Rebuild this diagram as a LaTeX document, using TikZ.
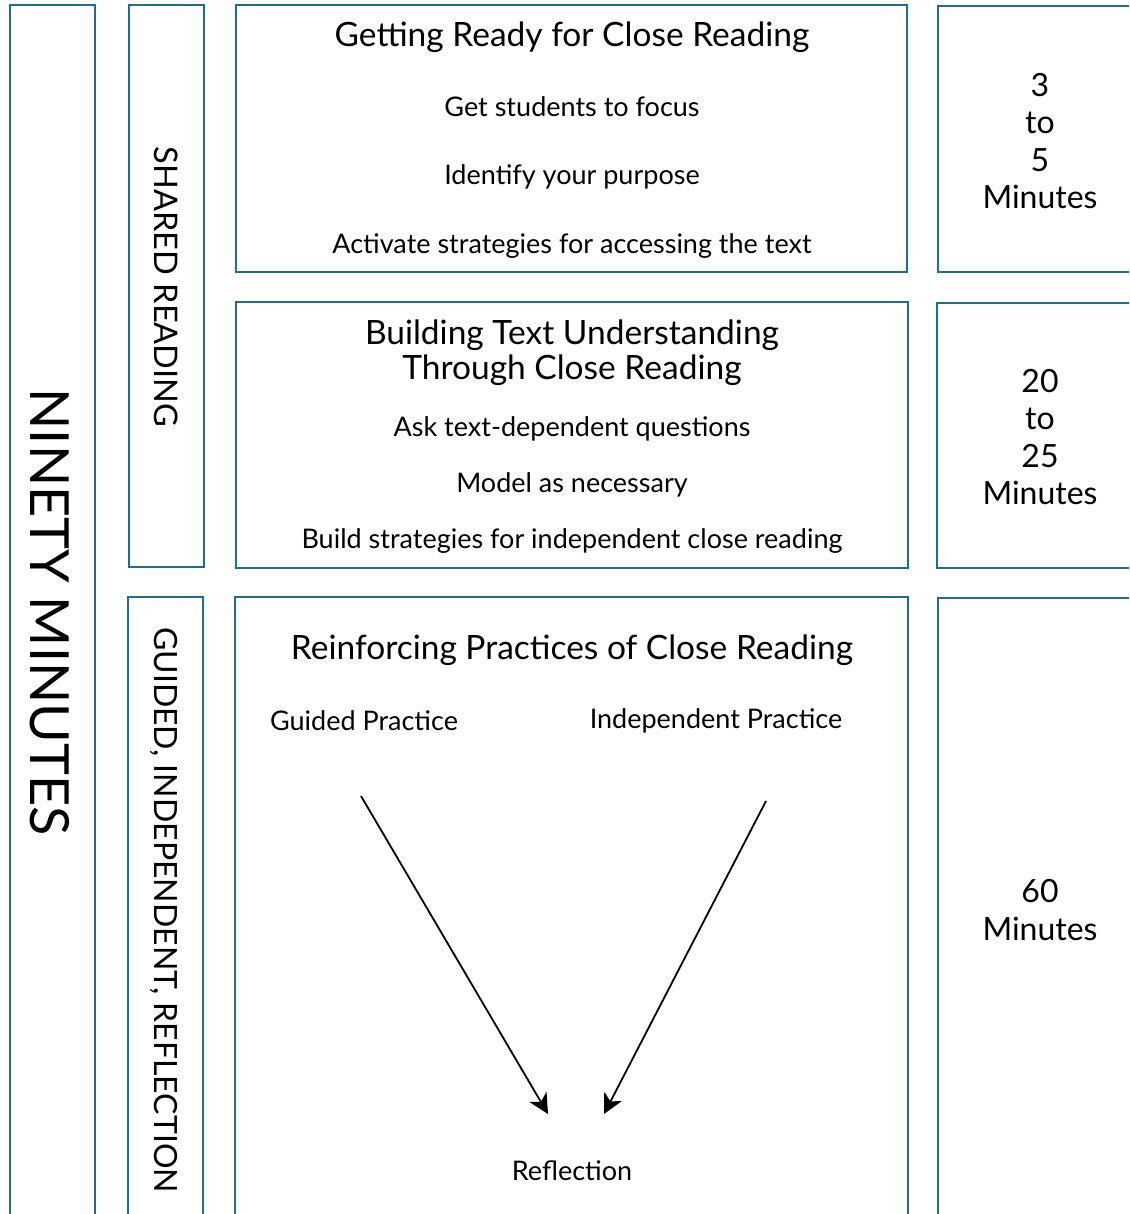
\documentclass[tikz,border=0pt]{standalone}
\usepackage{fontspec}
\setmainfont{Lato}
\usetikzlibrary{arrows.meta}
\definecolor{teal1}{RGB}{31,110,140}
\begin{document}
\begin{tikzpicture}[x=1pt,y=-1pt,
  frame/.style={draw=teal1,line width=1.7pt},
  title/.style={font=\fontsize{33.5}{35}\selectfont,align=center},
  body/.style={font=\fontsize{27}{32}\selectfont},
  mins/.style={font=\fontsize{32}{37.5}\selectfont,align=center},
  side/.style={font=\fontsize{32.5}{38}\selectfont,rotate=-90},
  arr/.style={line width=1.8pt,-{Stealth[length=20pt,width=20pt,inset=6pt]}}]
\useasboundingbox (0,0) rectangle (1129,1214);
\clip (0,0) rectangle (1129,1214);
% frames
\draw[frame] (10,1230) |- (95,5) -- (95,1230);
\draw[frame] (129,5) rectangle (204,567);
\draw[frame] (128,1230) |- (203,597) -- (203,1230);
\draw[frame] (236,5) rectangle (907,272);
\draw[frame] (236,302) rectangle (908,568);
\draw[frame] (235,1230) |- (908,597) -- (908,1230);
\draw[frame] (1140,6) -| (938,272) -- (1140,272);
\draw[frame] (1140,303) -| (937,568) -- (1140,568);
\draw[frame] (1140,598) -| (938,1230);
% side labels
\node[font=\fontsize{54}{60}\selectfont,rotate=-90] (ninety) at (50,612) {NINETY MINUTES};
\node[side] (shared) at (166,287) {SHARED READING};
\node[side,font=\fontsize{32}{38}\selectfont] (guided) at (164,910) {GUIDED, INDEPENDENT, REFLECTION};
% box 1
\node[title] (t1) at (572,37) {Getting Ready for Close Reading};
\node[body] (b11) at (572,107) {Get students to focus};
\node[body] (b12) at (572,177) {Identify your purpose};
\node[body] (b13) at (572,246) {Activate strategies for accessing the text};
% box 2
\node[title] (t2) at (572,353) {Building Text Understanding\\Through Close Reading};
\node[body] (b21) at (572,429) {Ask text-dependent questions};
\node[body] (b22) at (572,485) {Model as necessary};
\node[body] (b23) at (572,541) {Build strategies for independent close reading};
% box 3
\node[title] (t3) at (572,650) {Reinforcing Practices of Close Reading};
\node[body] (gp) at (364,721) {Guided Practice};
\node[body] (ip) at (716,721) {Independent Practice};
\node[body] (refl) at (572,1171) {Reflection};
\coordinate (a1s) at (361,796);
\coordinate (a1e) at (548,1114);
\coordinate (a2s) at (766,801);
\coordinate (a2e) at (604,1114);
\draw[arr] (a1s) -- (a1e);
\draw[arr] (a2s) -- (a2e);
% minutes
\node[mins] (m1) at (1040,141) {3\\to\\5\\Minutes};
\node[mins] (m2) at (1040,437) {20\\to\\25\\Minutes};
\node[mins] (m3) at (1040,910) {60\\Minutes};
\end{tikzpicture}
\end{document}
